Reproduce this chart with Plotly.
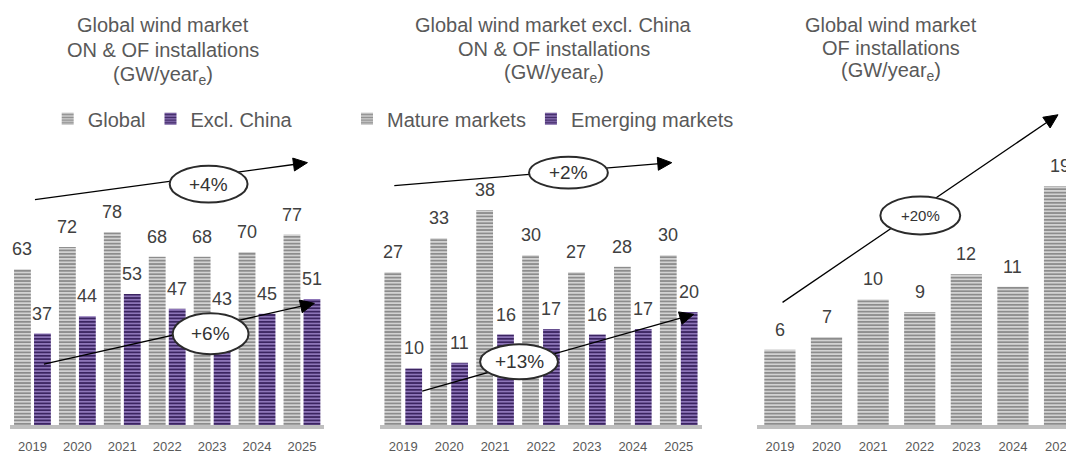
import math
import plotly.graph_objects as go

# ---------------- data ----------------
years = ["2019", "2020", "2021", "2022", "2023", "2024", "2025"]
global_total = [63, 72, 78, 68, 68, 70, 77]
excl_china = [37, 44, 53, 47, 43, 45, 51]
mature_markets = [27, 33, 38, 30, 27, 28, 30]
emerging_markets = [10, 11, 16, 17, 16, 17, 20]
offshore_global = [6, 7, 10, 9, 12, 11, 19]

title_p1 = ["Global wind market", "ON & OF installations", "(GW/year<sub>e</sub>)"]
title_p2 = ["Global wind market excl. China", "ON & OF installations", "(GW/year<sub>e</sub>)"]
title_p3 = ["Global wind market", "OF installations", "(GW/year<sub>e</sub>)"]
growth_labels = ["+4%", "+6%", "+2%", "+13%", "+20%"]

# ---------------- helpers ----------------
# The page body has an 8px default margin, so the figure is drawn 8px in and
# its size is reduced accordingly; all targets below are page pixels.
OFF = 8
W, H = 1074 - OFF, 454 - OFF


def px(x):
    return (x - OFF) / W


def py(y):
    return 1 - (y - OFF) / H


FONT = "Liberation Sans, Arial, sans-serif"
TXT = "#595959"
VAL = "#404040"
GRAY_BG, GRAY_FG = "#d2d2d2", "#8c8c8c"
PURP_BG, PURP_FG = "#8d75b8", "#3b2461"


def pat(bg, fg):
    return dict(shape="-", bgcolor=bg, fgcolor=fg, size=3.4, solidity=0.5, fillmode="replace")


fig = go.Figure()

# Panel 1
fig.add_bar(x=years, y=global_total, name="Global", xaxis="x", yaxis="y",
            width=0.375, offset=-0.41, legend="legend",
            marker=dict(color=GRAY_BG, pattern=pat(GRAY_BG, GRAY_FG), line_width=0))
fig.add_bar(x=years, y=excl_china, name="Excl. China", xaxis="x", yaxis="y",
            width=0.375, offset=0.035, legend="legend",
            marker=dict(color=PURP_BG, pattern=pat(PURP_BG, PURP_FG), line_width=0))
# Panel 2
fig.add_bar(x=years, y=mature_markets, name="Mature markets", xaxis="x2", yaxis="y2",
            width=0.365, offset=-0.41, legend="legend2",
            marker=dict(color=GRAY_BG, pattern=pat(GRAY_BG, GRAY_FG), line_width=0))
fig.add_bar(x=years, y=emerging_markets, name="Emerging markets", xaxis="x2", yaxis="y2",
            width=0.365, offset=0.045, legend="legend2",
            marker=dict(color=PURP_BG, pattern=pat(PURP_BG, PURP_FG), line_width=0))
# Panel 3
fig.add_bar(x=years, y=offshore_global, name="Offshore", xaxis="x3", yaxis="y3",
            width=0.67, offset=-0.335, showlegend=False,
            marker=dict(color=GRAY_BG, pattern=pat(GRAY_BG, GRAY_FG), line_width=0))

annotations = []


def value_labels(vals, xref, yref, shift):
    for i, v in enumerate(vals):
        annotations.append(dict(x=i + shift, y=v, xref=xref, yref=yref, text=str(v),
                                showarrow=False, yanchor="middle", yshift=20,
                                font=dict(family=FONT, size=18, color=VAL)))


value_labels(global_total, "x", "y", -0.2225)
value_labels(excl_china, "x", "y", 0.2225)
value_labels(mature_markets, "x2", "y2", -0.2275)
value_labels(emerging_markets, "x2", "y2", 0.2275)
value_labels(offshore_global, "x3", "y3", 0.0)


def title(lines, cx, ys):
    for t, y in zip(lines, ys):
        annotations.append(dict(x=px(cx), y=py(y), xref="paper", yref="paper", text=t,
                                showarrow=False, xanchor="center", yanchor="middle",
                                font=dict(family=FONT, size=20, color=TXT)))


title(title_p1, 163, [25, 50, 76])
title(title_p2, 555, [25, 49, 74])
title(title_p3, 893, [25, 48, 72])

shapes = []


def trend(start, tip, ell, label, fsize):
    sx, sy = start
    tx, ty = tip
    L = math.hypot(tx - sx, ty - sy)
    dx, dy = (tx - sx) / L, (ty - sy) / L
    head_len, head_half = 14, 6.5
    bx, by = tx - head_len * dx, ty - head_len * dy
    shapes.append(dict(type="line", xref="paper", yref="paper",
                       x0=px(sx), y0=py(sy), x1=px(bx + 2 * dx), y1=py(by + 2 * dy),
                       line=dict(color="black", width=1.3), layer="above"))
    nx, ny = -dy, dx
    p1 = (bx + head_half * nx, by + head_half * ny)
    p2 = (bx - head_half * nx, by - head_half * ny)
    path = "M{},{} L{},{} L{},{} Z".format(px(tx), py(ty), px(p1[0]), py(p1[1]),
                                          px(p2[0]), py(p2[1]))
    shapes.append(dict(type="path", xref="paper", yref="paper", path=path,
                       fillcolor="black", line=dict(color="black", width=1), layer="above"))
    ex0, ey0, ex1, ey1 = ell
    shapes.append(dict(type="circle", xref="paper", yref="paper",
                       x0=px(ex0), x1=px(ex1), y0=py(ey1), y1=py(ey0),
                       fillcolor="white", line=dict(color="#2b2b2b", width=2), layer="above"))
    annotations.append(dict(x=px((ex0 + ex1) / 2), y=py((ey0 + ey1) / 2), xref="paper",
                            yref="paper", text=label, showarrow=False,
                            xanchor="center", yanchor="middle",
                            font=dict(family=FONT, size=fsize, color="#333333")))


trend((35, 200), (308, 163), (170, 166, 248, 203), growth_labels[0], 19)
trend((44, 365), (315, 304), (173, 314, 249, 355), growth_labels[1], 19)
trend((395, 186), (673, 163), (530, 157, 609, 189), growth_labels[2], 19)
trend((423, 392), (695, 315), (481, 345, 559, 380), growth_labels[3], 19)
trend((784, 303), (1060, 115), (882, 197, 962, 235), growth_labels[4], 15)

xcommon = dict(type="category", showline=True, linecolor="#bfbfbf", linewidth=3.5,
               ticks="", showgrid=False, zeroline=False, fixedrange=True,
               tickfont=dict(family=FONT, size=13, color=TXT), ticklabelstandoff=7)
ycommon = dict(visible=False, showgrid=False, zeroline=False, fixedrange=True,
               domain=[py(426), py(130)])

legcommon = dict(orientation="h", xanchor="center", yanchor="middle", y=py(119),
                 font=dict(family=FONT, size=20, color=TXT), bgcolor="rgba(0,0,0,0)",
                 itemwidth=30, traceorder="normal")

fig.update_layout(
    width=W, height=H, margin=dict(l=0, r=0, t=0, b=0),
    paper_bgcolor="white", plot_bgcolor="white",
    barmode="overlay",
    font=dict(family=FONT, color=TXT),
    xaxis=dict(xcommon, domain=[px(10), px(325)], anchor="y", range=[-0.5, 6.5]),
    xaxis2=dict(xcommon, domain=[px(381), px(703)], anchor="y2", range=[-0.5, 6.5]),
    xaxis3=dict(xcommon, domain=[px(758), 1.0], anchor="y3", range=[-0.5, 6.267]),
    yaxis=dict(ycommon, anchor="x", range=[0, 119.4]),
    yaxis2=dict(ycommon, anchor="x2", range=[0, 52.2]),
    yaxis3=dict(ycommon, anchor="x3", range=[0, 23.5]),
    legend=dict(legcommon, x=px(173)),
    legend2=dict(legcommon, x=px(544)),
    shapes=shapes,
    annotations=annotations,
)

fig.write_html("out.html")
